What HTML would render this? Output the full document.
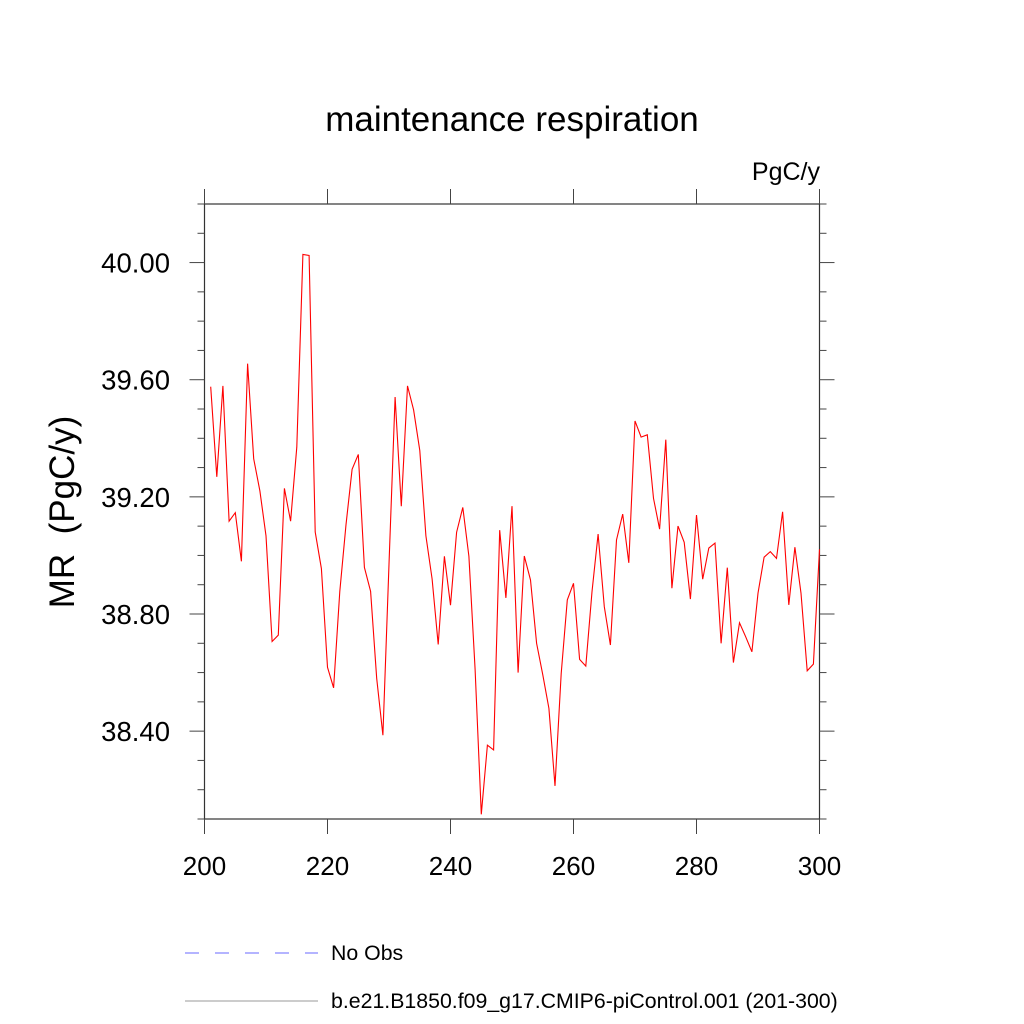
<!DOCTYPE html>
<html><head><meta charset="utf-8"><style>
body{margin:0;background:#fff}
svg{display:block;font-family:"Liberation Sans",sans-serif}
</style></head><body>
<svg id="chart" width="1024" height="1024" viewBox="0 0 1024 1024" xmlns="http://www.w3.org/2000/svg">
<text x="512" y="131" font-size="35" text-anchor="middle">maintenance respiration</text>
<text x="820" y="180" font-size="25" text-anchor="end">PgC/y</text>
<text transform="translate(74,512) rotate(-90)" font-size="35" text-anchor="middle">MR&#160;&#160;(PgC/y)</text>
<g id="axes"></g>
<g id="series"></g>
<g>
<line x1="185" y1="953" x2="318" y2="953" stroke="#6a6aff" stroke-width="1" stroke-dasharray="14,16"/>
<text x="331" y="960" font-size="21.3">No Obs</text>
<line x1="185" y1="1001" x2="318" y2="1001" stroke="#999" stroke-width="1"/>
<text x="331" y="1008" font-size="21.3">b.e21.B1850.f09_g17.CMIP6-piControl.001 (201-300)</text>
</g>
</svg>
<script>
const years = [];
for (let y = 201; y <= 300; y++) years.push(y);
const values = [39.576,39.268,39.579,39.117,39.146,38.98,39.655,39.33,39.22,39.067,
38.706,38.728,39.229,39.117,39.37,40.028,40.024,39.08,38.955,38.618,
38.548,38.877,39.105,39.294,39.345,38.959,38.877,38.58,38.386,38.97,
39.541,39.168,39.579,39.497,39.358,39.067,38.92,38.696,38.997,38.83,
39.079,39.164,38.997,38.611,38.116,38.352,38.336,39.086,38.855,39.168,
38.6,38.998,38.916,38.7,38.592,38.478,38.213,38.597,38.848,38.905,
38.645,38.622,38.876,39.073,38.825,38.694,39.053,39.141,38.975,39.459,
39.404,39.412,39.195,39.09,39.395,38.888,39.1,39.045,38.851,39.138,
38.919,39.025,39.042,38.7,38.958,38.634,38.77,38.722,38.671,38.871,
38.994,39.013,38.99,39.149,38.831,39.028,38.871,38.606,38.629,39.021];
const xTicks = [200,220,240,260,280,300];
const yTicks = [38.4,38.8,39.2,39.6,40.0];
const yTickLabels = ["38.40","38.80","39.20","39.60","40.00"];
const xDomain = [200,300], yDomain = [38.1,40.2];
const L=204.5,R=819.5,T=204,B=819;
const sx = v => L + (v-xDomain[0])/(xDomain[1]-xDomain[0])*(R-L);
const sy = v => B - (v-yDomain[0])/(yDomain[1]-yDomain[0])*(B-T);
const NS="http://www.w3.org/2000/svg";
const axes=document.getElementById('axes');
function mk(tag,attrs,parent){const e=document.createElementNS(NS,tag);for(const k in attrs)e.setAttribute(k,attrs[k]);parent.appendChild(e);return e;}
const frame=mk('rect',{x:L,y:T,width:R-L,height:B-T,fill:'none',stroke:'#333','stroke-width':1.2},axes);


for(let v=38.1;v<=40.21;v+=0.1){
  const y=sy(v);const major=yTicks.some(t=>Math.abs(t-v)<1e-6);const len=major?15:7;
  const a=mk('line',{x1:L-len,y1:y,x2:L,y2:y,stroke:'#444','stroke-width':1},axes);
  
  
  const b=mk('line',{x1:R,y1:y,x2:R+len,y2:y,stroke:'#444','stroke-width':1},axes);
  
  
}
yTicks.forEach((v,i)=>{
  const t=mk('text',{x:170,y:sy(v)+10,'font-size':27.5,'text-anchor':'end'},axes);
  t.textContent=yTickLabels[i];
  
  
});
xTicks.forEach(v=>{
  const x=sx(v);
  const a=mk('line',{x1:x,y1:B,x2:x,y2:B+15,stroke:'#444','stroke-width':1},axes);
  
  
  const b=mk('line',{x1:x,y1:T-15,x2:x,y2:T,stroke:'#444','stroke-width':1},axes);
  
  
  const t=mk('text',{x:x,y:875,'font-size':26,'text-anchor':'middle'},axes);
  t.textContent=String(v);
  
  
});
const pts=years.map((y,i)=>sx(y).toFixed(1)+','+sy(values[i]).toFixed(1)).join(' ');
const line=mk('polyline',{points:pts,fill:'none',stroke:'#ff0000','stroke-width':1.1},document.getElementById('series'));


</script>
</body></html>
